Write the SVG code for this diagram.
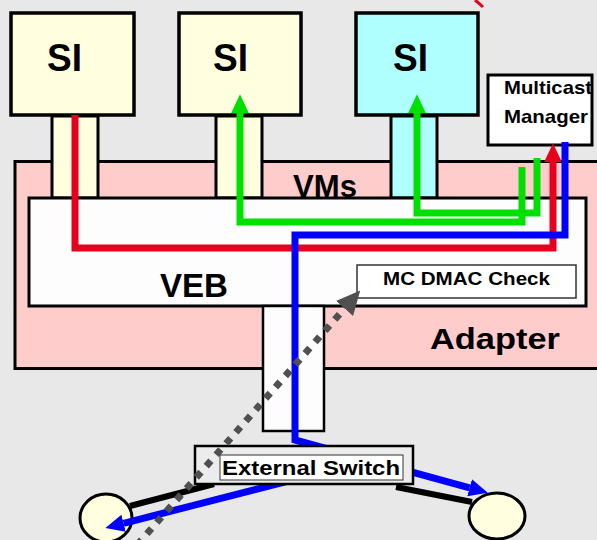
<svg xmlns="http://www.w3.org/2000/svg" width="597" height="540" viewBox="0 0 597 540">
<defs>
<style>
.box{stroke:#000;stroke-width:3.5}
.lbl{font-family:"Liberation Sans",Arial,sans-serif;font-weight:bold;fill:#000}
.flow{fill:none;stroke-width:7;stroke-linejoin:miter}
</style>
<marker id="hg" markerUnits="userSpaceOnUse" markerWidth="20" markerHeight="20" viewBox="0 -8 17 16" refX="0" refY="0" orient="auto"><path d="M0,-7.5 L16,0 L0,7.5 z" fill="#00e000"/></marker>
<marker id="hr" markerUnits="userSpaceOnUse" markerWidth="20" markerHeight="20" viewBox="0 -8 17 16" refX="0" refY="0" orient="auto"><path d="M0,-7.5 L16,0 L0,7.5 z" fill="#e6001e"/></marker>
<marker id="hb" markerUnits="userSpaceOnUse" markerWidth="20" markerHeight="20" viewBox="0 -8 17 16" refX="0" refY="0" orient="auto"><path d="M0,-7.5 L16,0 L0,7.5 z" fill="#0000ff"/></marker>
<marker id="hd" markerUnits="userSpaceOnUse" markerWidth="26" markerHeight="26" viewBox="0 -12 24 24" refX="0" refY="0" orient="auto"><path d="M0,-10.5 L22,0 L0,10.5 z" fill="#505050"/></marker>
</defs>
<rect x="0" y="0" width="597" height="540" fill="#e8e8e8"/>

<g id="adapter">
<rect x="15" y="161.5" width="600" height="207" fill="#ffcccc" stroke="#000" stroke-width="3"/>
<text class="lbl" x="430" y="349" font-size="30" textLength="130" lengthAdjust="spacingAndGlyphs">Adapter</text>
<text class="lbl" x="293" y="197" font-size="31" textLength="64" lengthAdjust="spacingAndGlyphs">VMs</text>
</g>

<g id="stubs">
<rect x="52" y="116" width="46" height="82" fill="#ffffe0" stroke="#000" stroke-width="3"/>
<rect x="216" y="116" width="46" height="82" fill="#ffffe0" stroke="#000" stroke-width="3"/>
<rect x="391" y="116" width="46" height="82" fill="#b0ffff" stroke="#000" stroke-width="3"/>
</g>

<g id="veb">
<rect x="29" y="198" width="557" height="108" fill="#fdfdfd" stroke="#000" stroke-width="3"/>
<text class="lbl" x="160" y="297" font-size="34" textLength="68" lengthAdjust="spacingAndGlyphs">VEB</text>
</g>

<g id="mc-dmac-check">
<rect x="357" y="265" width="219" height="33" fill="#fff" stroke="#333" stroke-width="1.5"/>
<text class="lbl" x="383" y="285" font-size="18" textLength="167" lengthAdjust="spacingAndGlyphs">MC DMAC Check</text>
</g>

<g id="uplink">
<rect x="263" y="306" width="61" height="125" fill="#fdfdfd" stroke="#000" stroke-width="2.5"/>
</g>

<g id="si1">
<rect class="box" x="11" y="13" width="123" height="102" fill="#ffffe0"/>
<text class="lbl" x="47" y="71" font-size="38" textLength="35" lengthAdjust="spacingAndGlyphs">SI</text>
</g>
<g id="si2">
<rect class="box" x="179" y="13" width="122" height="102" fill="#ffffe0"/>
<text class="lbl" x="213" y="71" font-size="38" textLength="35" lengthAdjust="spacingAndGlyphs">SI</text>
</g>
<g id="si3">
<rect class="box" x="356" y="13" width="122" height="102" fill="#b0ffff"/>
<text class="lbl" x="393" y="71" font-size="38" textLength="35" lengthAdjust="spacingAndGlyphs">SI</text>
</g>

<g id="multicast-manager">
<rect x="488" y="75" width="104" height="70" fill="#fff" stroke="#000" stroke-width="3"/>
<text class="lbl" x="504" y="94" font-size="19" textLength="88" lengthAdjust="spacingAndGlyphs">Multicast</text>
<text class="lbl" x="504" y="123" font-size="19" textLength="84" lengthAdjust="spacingAndGlyphs">Manager</text>
</g>

<g id="end-station-left">
<ellipse cx="106" cy="518" rx="26" ry="24" fill="#ffffe0" stroke="#000" stroke-width="3"/>
</g>
<g id="end-station-right">
<ellipse cx="497" cy="516" rx="28" ry="23" fill="#ffffe0" stroke="#000" stroke-width="3"/>
</g>

<g id="connectors">
<line x1="214" y1="484" x2="130" y2="506" stroke="#000" stroke-width="6"/>
<line x1="396" y1="487" x2="472" y2="502" stroke="#000" stroke-width="6"/>
<path class="flow" stroke="#e6001e" d="M75,115 V248 H553 V162" marker-end="url(#hr)"/>
<path class="flow" stroke="#00e000" d="M522,167 V222 H240 V113" marker-end="url(#hg)"/>
<path class="flow" stroke="#00e000" d="M537,158 V213 H417 V113" marker-end="url(#hg)"/>
<path class="flow" stroke="#0000ff" d="M565,142 V235 H295 V440 L469.6,487.8" marker-end="url(#hb)"/>
<path class="flow" stroke="#0000ff" d="M300,478 L123.6,523.3" marker-end="url(#hb)"/>
<path d="M475,0 Q480,4 483,7" fill="none" stroke="#e6001e" stroke-width="3"/>
</g>

<g id="external-switch">
<rect x="195" y="446" width="218" height="38" fill="#ececec" stroke="#000" stroke-width="2.5"/>
<rect x="220" y="455" width="183" height="25" fill="#fff" stroke="#333" stroke-width="1"/>
<text class="lbl" x="222" y="475" font-size="21" textLength="178" lengthAdjust="spacingAndGlyphs">External Switch</text>
</g>

<g id="dotted-connector">
<path d="M137,545 L344.5,308.5" fill="none" stroke="#505050" stroke-width="7" stroke-dasharray="7 8" marker-end="url(#hd)"/>
</g>
</svg>
